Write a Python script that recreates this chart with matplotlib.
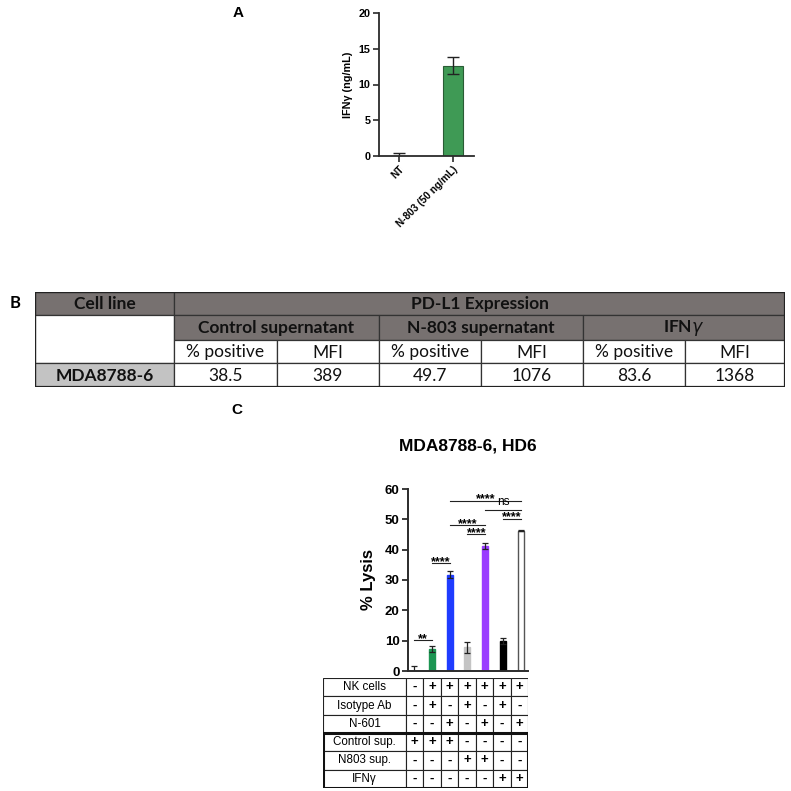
import matplotlib.pyplot as plt
import numpy as np
from matplotlib.patches import Rectangle

# panel A data
a_groups = ["NT", "N-803 (50 ng/mL)"]
a_values = [0.0, 12.6]
a_err = [0.4, 1.2]

# panel B table
b_cell_line = "MDA8788-6"
b_conditions = ["Control supernatant", "N-803 supernatant", r"IFN$\gamma$"]
b_metrics = ["% positive", "MFI"]
b_values = ["38.5", "389", "49.7", "1076", "83.6", "1368"]

# panel C data
c_values = [0.0, 7.3, 31.7, 7.8, 41.3, 10.0, 46.3]
c_err = [1.7, 1.0, 1.2, 1.8, 1.0, 1.0, 0.3]
c_colors = ["#ffffff", "#1c9552", "#1f3cff", "#c4c4c4", "#9a3cff", "#000000", "#ffffff"]
c_edges = ["#ffffff", "#1c9552", "#1f3cff", "#c4c4c4", "#9a3cff", "#000000", "#555555"]
# (bar i, bar j, height, label)
c_comparisons = [(0, 1, 10.2, "**"), (1, 2, 35.5, "****"), (2, 4, 48.0, "****"),
                 (3, 4, 45.1, "****"), (2, 6, 56.2, "****"), (4, 6, 53.1, "ns"),
                 (5, 6, 50.2, "****")]
c_rows = ["NK cells", "Isotype Ab", "N-601", "Control sup.", "N803 sup.", "IFNγ"]
c_signs = [
    "-++++++",
    "-+-+-+-",
    "--+-+-+",
    "+++----",
    "---++--",
    "-----++",
]

W = H = 791
fig = plt.figure(figsize=(7.91, 7.91), dpi=100)


def px_axes(l, t, r, b):
    return fig.add_axes([l / W, 1 - b / H, (r - l) / W, (b - t) / H])


arial = "Liberation Sans"
axis_col = "#2b2b2b"

# ---------------- panel A ----------------
ax = px_axes(379, 13, 474, 156)
xa = np.arange(len(a_groups))
ax.bar(xa, a_values, width=0.37, color="#3f9a55", edgecolor="#2a5c35", linewidth=0.8)
ax.errorbar(xa, a_values, yerr=a_err, fmt="none", ecolor="#222222", elinewidth=1,
            capsize=4, capthick=1)
ax.set_xlim(-0.37, 1.39)
ax.set_ylim(0, 20)
ax.set_yticks([0, 5, 10, 15, 20])
ax.set_xticks(xa)
ax.set_xticklabels(a_groups, rotation=45, ha="right", rotation_mode="anchor",
                   fontsize=7.3, fontweight="bold", family=arial)
for lab in ax.get_yticklabels():
    lab.set_fontsize(7.8)
    lab.set_fontweight("bold")
    lab.set_family(arial)
ax.set_ylabel("IFNγ (ng/mL)", fontsize=7.8, fontweight="bold", family=arial, labelpad=4)
for s in ["top", "right"]:
    ax.spines[s].set_visible(False)
for s in ["left", "bottom"]:
    ax.spines[s].set_linewidth(1.3)
    ax.spines[s].set_color(axis_col)
ax.tick_params(width=1.2, length=4, color=axis_col, pad=2)
fig.text(238 / W, 1 - 13 / H, "A", fontsize=11, fontweight="bold", family=arial,
         ha="center", va="center")

# ---------------- panel B ----------------
tb = px_axes(35, 292, 785, 387)
tb.set_xlim(0, 750)
tb.set_ylim(95, 0)
tb.axis("off")
cx = [0, 139, 242, 344, 446, 548, 650, 750]
ry = [0, 23, 48, 71, 95]
hdr = "#777170"
calibri = "Lato"


def cell(c0, c1, r0, r1, text, bg, bold=False):
    tb.add_patch(Rectangle((cx[c0], ry[r0]), cx[c1] - cx[c0], ry[r1] - ry[r0],
                           facecolor=bg, edgecolor="#333333", linewidth=0.9))
    if text:
        tb.text((cx[c0] + cx[c1]) / 2, (ry[r0] + ry[r1]) / 2 + 1, text, ha="center",
                va="center", fontsize=12.5, family=calibri,
                fontweight="bold" if bold else "normal", color="#111111")


cell(0, 1, 0, 1, "Cell line", hdr, True)
cell(1, 7, 0, 1, "PD-L1 Expression", hdr, True)
cell(0, 1, 1, 3, "", "white")
for i, cond in enumerate(b_conditions):
    cell(1 + 2 * i, 3 + 2 * i, 1, 2, cond, hdr, True)
    for j, m in enumerate(b_metrics):
        cell(1 + 2 * i + j, 2 + 2 * i + j, 2, 3, m, "white")
cell(0, 1, 3, 4, b_cell_line, "#c3c3c3", True)
for k, v in enumerate(b_values):
    cell(1 + k, 2 + k, 3, 4, v, "white")
tb.add_patch(Rectangle((0, 0), 750, 95, facecolor="none", edgecolor="#222222", linewidth=1.6))
fig.text(15 / W, 1 - 303 / H, "B", fontsize=12, fontweight="bold", family=calibri,
         ha="center", va="center")

# ---------------- panel C ----------------
axc = px_axes(408, 489, 528, 671)
xc = np.arange(len(c_values))
axc.bar(xc, c_values, width=0.34, color=c_colors, edgecolor=c_edges, linewidth=1)
axc.errorbar(xc, c_values, yerr=c_err, fmt="none", ecolor="#222222", elinewidth=0.9,
             capsize=2, capthick=0.9)
axc.set_xlim(-0.34, 6.4)
axc.set_ylim(0, 60)
axc.set_yticks(range(0, 61, 10))
axc.set_xticks([])
for lab in axc.get_yticklabels():
    lab.set_fontsize(9.5)
    lab.set_fontweight("bold")
    lab.set_family(arial)
axc.set_ylabel("% Lysis", fontsize=12, fontweight="bold", family=arial, labelpad=6)
for s in ["top", "right"]:
    axc.spines[s].set_visible(False)
for s in ["left", "bottom"]:
    axc.spines[s].set_linewidth(1.4)
    axc.spines[s].set_color(axis_col)
axc.tick_params(width=1.3, length=4, color=axis_col, pad=2)
for i, j, h, lab in c_comparisons:
    axc.plot([xc[i], xc[j]], [h, h], color="#222222", lw=0.8, clip_on=False)
    if lab == "ns":
        axc.text((xc[i] + xc[j]) / 2, h + 0.5, lab, ha="center", va="bottom",
                 fontsize=8.5, family=arial)
    else:
        # asterisks sit high in the glyph box, so baseline goes below the line
        axc.text((xc[i] + xc[j]) / 2, h - 0.6, lab, ha="center", va="baseline",
                 fontsize=9, fontweight="bold", family=arial)
axc.set_title("MDA8788-6, HD6", fontsize=12.5, fontweight="bold", family=arial, pad=28)
fig.text(237 / W, 1 - 410 / H, "C", fontsize=11, fontweight="bold", family=arial,
         ha="center", va="center")

# table under panel C
tc = px_axes(323, 678, 528, 788)
tc.set_xlim(0, 205)
tc.set_ylim(110, 0)
tc.axis("off")
lab_w = 83
col_w = (205 - lab_w) / 7
row_h = 110 / 6
for r, name in enumerate(c_rows):
    y0 = r * row_h
    tc.add_patch(Rectangle((0, y0), lab_w, row_h, facecolor="white", edgecolor="#222222", lw=0.8))
    tc.text(lab_w / 2, y0 + row_h / 2, name, ha="center", va="center", fontsize=8.4, family=arial)
    for k, sgn in enumerate(c_signs[r]):
        x0 = lab_w + k * col_w
        tc.add_patch(Rectangle((x0, y0), col_w, row_h, facecolor="white", edgecolor="#222222", lw=0.8))
        tc.text(x0 + col_w / 2, y0 + row_h / 2, sgn, ha="center", va="center", fontsize=9.5,
                fontweight="bold", family=arial)
tc.add_patch(Rectangle((0, 3 * row_h), 205, 3 * row_h, facecolor="none", edgecolor="#111111", lw=2.2))

fig.savefig("out.png", dpi=100)
